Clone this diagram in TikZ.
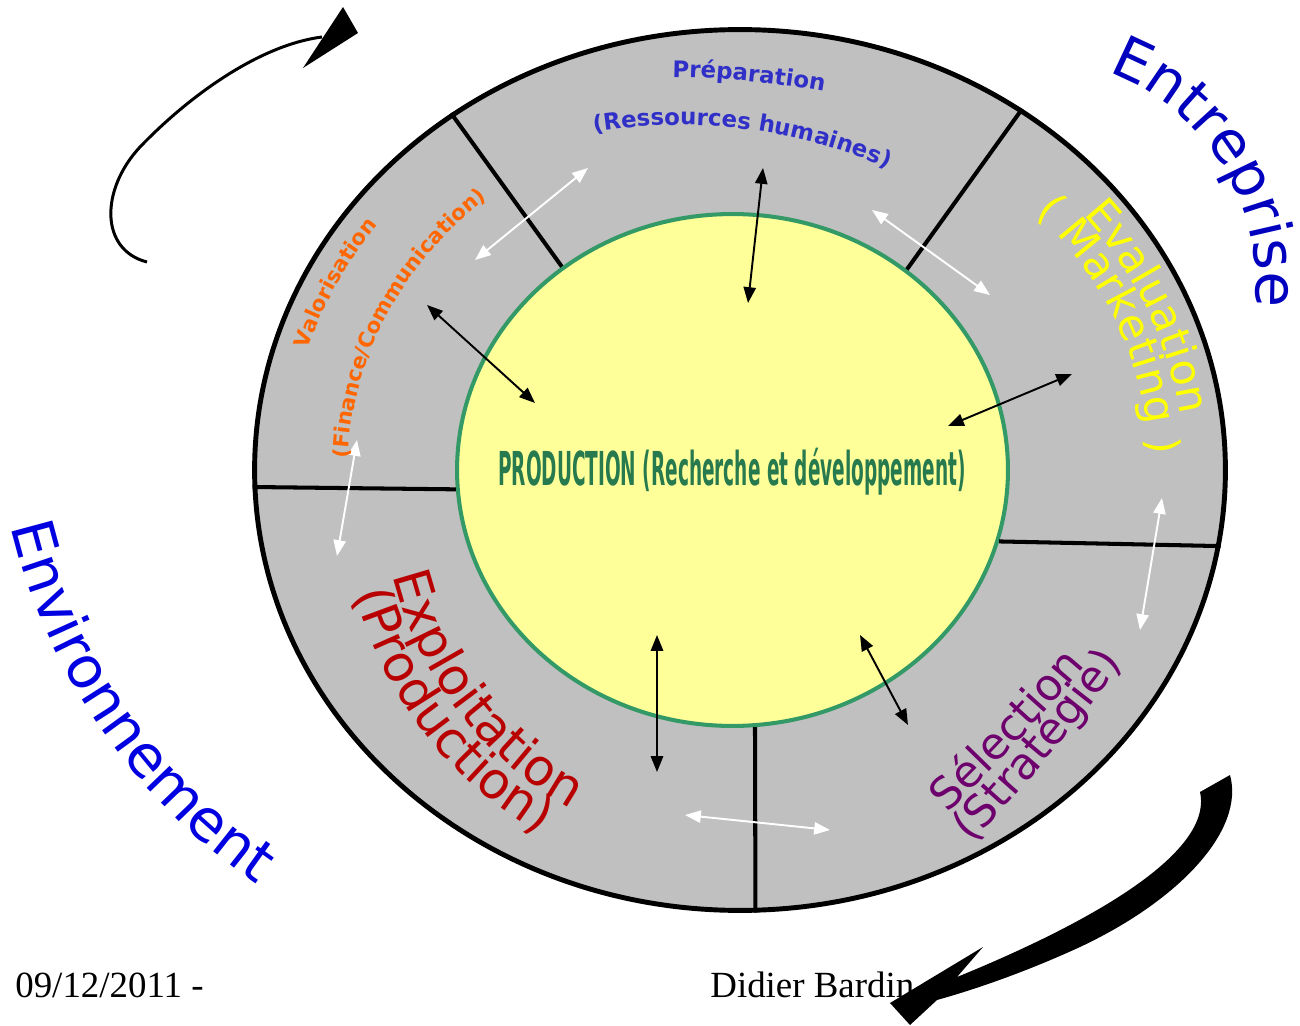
\documentclass[tikz,border=0pt]{standalone}
\usepackage{fontspec}
\usepackage{graphicx}
\setmainfont{DejaVu Sans}
\newfontfamily\condfont{DejaVu Sans Condensed}
\newfontfamily\footfont{Liberation Serif}
\usetikzlibrary{shapes.geometric, arrows.meta, decorations.text}

\definecolor{ringgray}{RGB}{192,192,192}
\definecolor{coreyellow}{RGB}{255,255,153}
\definecolor{coregreen}{RGB}{51,153,102}
\definecolor{prodgreen}{RGB}{38,122,78}
\definecolor{prepblue}{RGB}{48,48,200}
\definecolor{valoorange}{RGB}{255,102,0}
\definecolor{evalyellow}{RGB}{255,255,0}
\definecolor{explred}{RGB}{185,0,0}
\definecolor{selepurple}{RGB}{110,0,110}
\definecolor{entblue}{RGB}{0,0,190}
\definecolor{envblue}{RGB}{0,0,225}

\newcommand\prepfont{\fontsize{13}{16}\selectfont\bfseries\color{prepblue}}
\newcommand\valofont{\fontsize{12}{15}\selectfont\bfseries\color{valoorange}}
\newcommand\evalfont{\fontsize{24.4}{29}\selectfont\color{evalyellow}}
\newcommand\explfont{\fontsize{28.9}{34}\selectfont\color{explred}}
\newcommand\selefont{\fontsize{25}{30}\selectfont\color{selepurple}}
\newcommand\entfont{\fontsize{33}{40}\selectfont\color{entblue}}
\newcommand\envfont{\fontsize{33}{40}\selectfont\color{envblue}}

\tikzset{
  ringlabel/.style={decorate, decoration={text along path, text align=center, text={#1}}},
  divider/.style={line width=2.3pt},
  link/.style={<->, >={Triangle[length=9pt,width=7pt]}, line width=1.1pt},
  flow/.style={link, white},
}

\begin{document}
\begin{tikzpicture}[x=0.02cm, y=-0.02cm]
\path[use as bounding box, fill=white] (0,0) rectangle (1300,1026);

% ring and core
\node[draw, ellipse, line width=2.8pt, fill=ringgray, minimum width=19.42cm, minimum height=17.62cm, inner sep=0pt] (ring) at (740,470) {};
\node[draw=coregreen, ellipse, line width=2.3pt, fill=coreyellow, minimum width=11.02cm, minimum height=10.24cm, inner sep=0pt] (core) at (732.5,470) {};
\node[anchor=base, inner sep=0pt, text=prodgreen, font=\condfont\bfseries\fontsize{26.6}{30}\selectfont] (prod) at (732,485)
  {\scalebox{0.44}[1]{PRODUCTION (Recherche et développement)}};

% sector borders
\draw[divider] (ring.129.2) -- (core.130.2);
\draw[divider] (ring.52.3) -- (core.49.8);
\draw[divider] (ring.182.7) -- (core.184.5);
\draw[divider] (ring.351.6) -- (core.345.6);
\draw[divider] (ring.272.3) -- (core.275.6);

% arrows
\foreach \n/\ax/\ay/\bx/\by in {prep/763/168/748/303, valo/427/305/535/403, eval/1072/374/948/426,
                              expl/657/635/657/772, sele/860/635/908/725} {
  \coordinate (\n-a) at (\ax,\ay);
  \coordinate (\n-b) at (\bx,\by);
  \draw[link] (\n-a) -- (\n-b);
}
\foreach \n/\ax/\ay/\bx/\by in {valoprep/475/260/588/168, prepeval/872/210/990/295, evalsele/1162/498/1140/630,
                              seleexpl/830/830/685/815, explvalo/357/440/337/556} {
  \coordinate (\n-a) at (\ax,\ay);
  \coordinate (\n-b) at (\bx,\by);
  \draw[flow] (\n-a) -- (\n-b);
}

% labels on the ring
\path[ringlabel={|\prepfont|Préparation}] ([shift={(660,1000)}]264:923) arc[start angle=264, end angle=287, radius=923];
\path[ringlabel={|\prepfont|(Ressources humaines)}] ([shift={(680,645)}]250:520) arc[start angle=250, end angle=304, radius=520];
\path[ringlabel={|\valofont|Valorisation}] ([shift={(740,470)}]180:452 and 410) arc[start angle=180, end angle=233, x radius=452, y radius=410];
\path[ringlabel={|\valofont|(Finance/Communication)}] ([shift={(740,470)}]170:392 and 355) arc[start angle=170, end angle=241, x radius=392, y radius=355];
\path[ringlabel={|\evalfont|Evaluation}] ([shift={(740,470)}]315:444 and 402) arc[start angle=315, end angle=358, x radius=444, y radius=402];
\path[ringlabel={|\evalfont|( Marketing )}] ([shift={(740,470)}]312:410 and 371) arc[start angle=312, end angle=362, x radius=410, y radius=371];
\path[ringlabel={|\explfont|Exploitation}] ([shift={(748,488)}]175:366) arc[start angle=175, end angle=110, radius=366];
\path[ringlabel={|\explfont|(Production)}] ([shift={(739,489)}]174.3:398) arc[start angle=174.3, end angle=110.3, radius=398];
\path[ringlabel={|\selefont|Sélection}] (899,858) .. controls (982,783) and (1058,702) .. (1127,614);
\path[ringlabel={|\selefont|(Stratégie)}] (922,894) .. controls (1011,806) and (1092,710) .. (1163,606);

% outside labels
\path[ringlabel={|\entfont|Entreprise}] ([shift={(1029,285)}]270:227) arc[start angle=270, end angle=386, radius=227];
\path[ringlabel={|\envfont|Environnement}] ([shift={(596,388)}]185:601) arc[start angle=185, end angle=106, radius=601];

% footer
\node[anchor=base west, inner sep=0pt, font=\footfont\fontsize{21}{25}\selectfont] (date) at (15,997) {09/12/2011 -};
\node[anchor=base west, inner sep=0pt, font=\footfont\fontsize{21}{25}\selectfont] (author) at (710,997) {Didier Bardin};

% turning arrows
\draw[line width=1.7pt] (147,262) .. controls (100,250) and (100,190) .. (140,147) .. controls (190,95) and (260,45) .. (322,37);
\fill (343,7) -- (358,33) -- (303,68) -- cycle;
\fill (1230,775) .. controls (1245,830) and (1180,900) .. (1080,947) .. controls (1030,970) and (980,988) .. (937,1000)
  -- (910,1025) -- (890,1003) -- (983,947) -- (957,977) .. controls (1060,935) and (1215,860) .. (1200,792) -- cycle;
\end{tikzpicture}
\end{document}
